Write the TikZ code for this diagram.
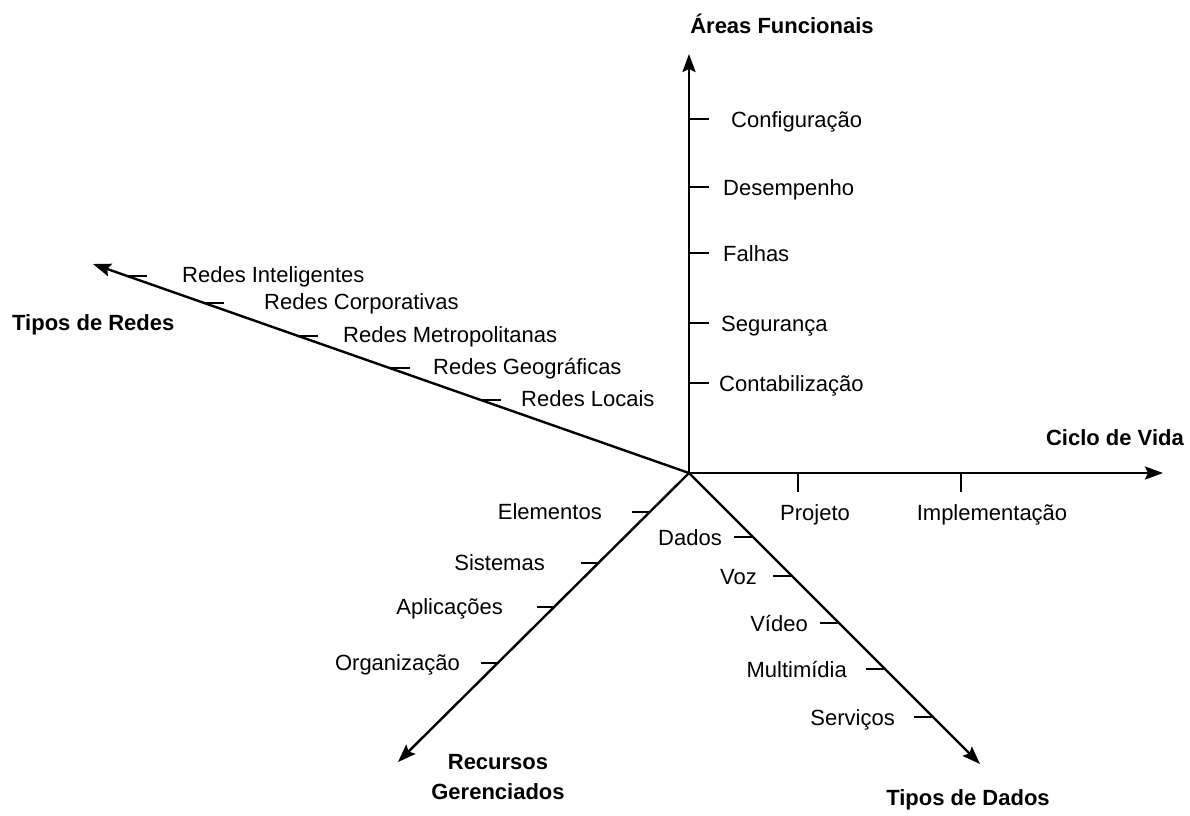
\documentclass[tikz,border=0pt]{standalone}
\usepackage{fontspec}
\setmainfont{Liberation Sans}
\usetikzlibrary{arrows.meta,calc}

\tikzset{
  axisline/.style={line width=2.4pt, -{Stealth[length=18pt,width=13pt,inset=3pt]}},
  tickline/.style={line width=2pt},
  lbl/.style={inner sep=0pt, font=\fontsize{22}{26}\selectfont},
  ttl/.style={inner sep=0pt, font=\fontsize{22}{30}\selectfont\bfseries, align=center},
}

\begin{document}
\begin{tikzpicture}[x=1pt,y=-1pt]
  \useasboundingbox (0,0) rectangle (1190,815);

  % origin and axis tips
  \coordinate (O) at (689,473);
  \coordinate (AF) at (689,54);
  \coordinate (CV) at (1163,473);
  \coordinate (TR) at (93,264);
  \coordinate (RG) at (398,762);
  \coordinate (TD) at (980,764);

  \draw[axisline] (O) -- (AF);
  \draw[axisline] (O) -- (CV);
  \draw[axisline] (O) -- (TR);
  \draw[axisline] (O) -- (RG);
  \draw[axisline] (O) -- (TD);

  % axis titles
  \node[ttl] (tAF) at (782,24) {Áreas Funcionais};
  \node[ttl, anchor=east] (tCV) at (1184,438) {Ciclo de Vida};
  \node[ttl, anchor=west] (tTR) at (12,325) {Tipos de Redes};
  \node[ttl] (tRG) at (498,777) {Recursos\\Gerenciados};
  \node[ttl] (tTD) at (968,800) {Tipos de Dados};

  % Areas Funcionais: ticks to the right
  \foreach \y/\xl/\name/\txt in {119/731/af1/Configuração, 187/723/af2/Desempenho,
      253/723/af3/Falhas, 323/721/af4/Segurança, 383/719/af5/Contabilização}{
    \coordinate (\name a) at (689,\y);
    \coordinate (\name b) at (709,\y);
    \draw[tickline] (\name a) -- (\name b);
    \node[lbl, anchor=base west] (\name) at (\xl,\y+8) {\txt};
  }

  % Ciclo de Vida: ticks downwards
  \foreach \x/\xc/\name/\txt in {798/815/cv1/Projeto, 961/992/cv2/Implementação}{
    \coordinate (\name a) at (\x,473);
    \coordinate (\name b) at (\x,492);
    \draw[tickline] (\name a) -- (\name b);
    \node[lbl, anchor=base] (\name) at (\xc,520) {\txt};
  }

  % Tipos de Redes: ticks to the right of the slanted axis
  \foreach \t/\y/\xl/\name/\txt in {0.943/276/182/tr1/Redes Inteligentes,
      0.813/303/264/tr2/Redes Corporativas, 0.656/336/343/tr3/Redes Metropolitanas,
      0.502/368/433/tr4/Redes Geográficas, 0.349/400/521/tr5/Redes Locais}{
    \coordinate (\name a) at ($(O)!\t!(TR)$);
    \coordinate (\name b) at ($(\name a)+(20,0)$);
    \draw[tickline] (\name a) -- (\name b);
    \node[lbl, anchor=base west] (\name) at (\xl,\y+6) {\txt};
  }

  % Recursos Gerenciados: ticks to the left
  \foreach \y/\xr/\name/\txt in {512/602/rg1/Elementos, 563/545/rg2/Sistemas,
      607/503/rg3/Aplicações, 663/460/rg4/Organização}{
    \coordinate (\name a) at (689-\y+473,\y);
    \coordinate (\name b) at ($(\name a)+(-18,0)$);
    \draw[tickline] (\name a) -- (\name b);
    \node[lbl, anchor=base east] (\name) at (\xr,\y+7) {\txt};
  }

  % Tipos de Dados: ticks to the left
  \foreach \y/\xr/\name/\txt in {537/722/td1/Dados, 576/757/td2/Voz,
      623/808/td3/Vídeo, 669/847/td4/Multimídia, 717/895/td5/Serviços}{
    \coordinate (\name a) at (689+\y-473,\y);
    \coordinate (\name b) at ($(\name a)+(-19,0)$);
    \draw[tickline] (\name a) -- (\name b);
    \node[lbl, anchor=base east] (\name) at (\xr,\y+8) {\txt};
  }
\end{tikzpicture}
\end{document}
